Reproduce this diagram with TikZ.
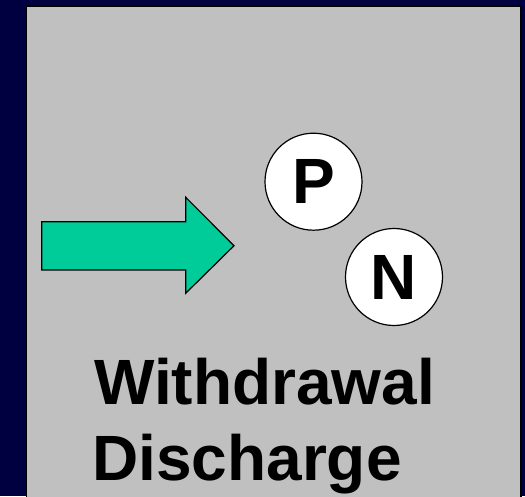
\documentclass[tikz,border=0pt]{standalone}
\usepackage{fontspec}
\setmainfont{Liberation Sans}
\definecolor{navy}{RGB}{0,0,64}
\definecolor{panel}{RGB}{192,192,192}
\definecolor{teal}{RGB}{0,204,153}
\begin{document}
\begin{tikzpicture}[x=1pt,y=1pt,
  letter/.style={circle,draw=black,fill=white,line width=1.2pt,minimum size=97pt,inner sep=0pt,font=\fontsize{64}{64}\selectfont\bfseries},
  label/.style={anchor=base west,inner sep=0pt,font=\fontsize{64}{64}\selectfont\bfseries}]
\useasboundingbox (0,0) rectangle (525,496);
\fill[navy] (0,0) rectangle (525,496);
\draw[black,line width=1.2pt,fill=panel] (26.5,-5) rectangle (521,490);
\draw[black,line width=1.2pt,fill=teal,line join=miter]
  (41.7,274.3) -- (185.7,274.3) -- (185.7,298.7) -- (234,250.3) -- (185.7,202.7) -- (185.7,226) -- (41.7,226) -- cycle;
\node[letter] (p) at (313.5,314.3) {P};
\node[letter] (n) at (394,219) {N};
\node[label] (w) at (94,92) {Withdrawal};
\node[label] (d) at (92,16) {Discharge};
\end{tikzpicture}
\end{document}
